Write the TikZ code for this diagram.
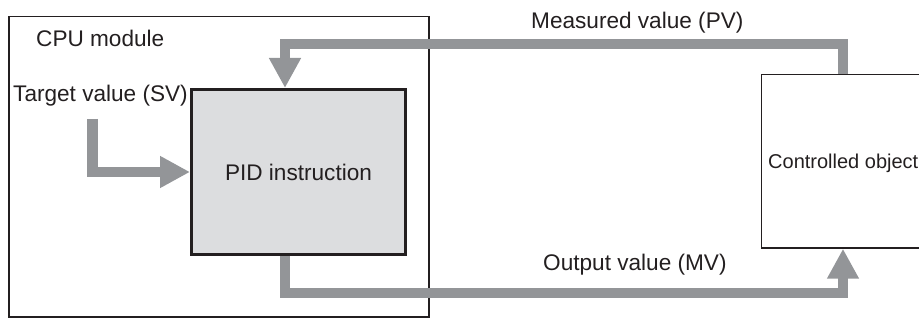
\documentclass[tikz,border=0pt]{standalone}
\usepackage{fontspec}
\setmainfont{Liberation Sans}
\usetikzlibrary{arrows.meta}
\definecolor{flowgray}{HTML}{939598}
\definecolor{pidfill}{HTML}{DCDDDF}
\definecolor{ink}{HTML}{231F20}
\begin{document}
\begin{tikzpicture}[x=1pt, y=-1pt, every node/.style={font=\fontsize{22.6}{27}\selectfont, text=ink, inner sep=0pt},
  cpubox/.style={draw=ink,line width=1.5pt,minimum width=420pt,minimum height=300.5pt,anchor=north west},
  pidbox/.style={draw=ink,line width=3.2pt,fill=pidfill,minimum width=213.8pt,minimum height=164.8pt},
  objbox/.style={draw=ink,line width=1.5pt,minimum width=200pt,minimum height=173.5pt,anchor=north west},
  flow/.style={draw=flowgray,line width=10.5pt,line join=miter,-{Triangle[width=30pt,length=30pt]}}]
  \useasboundingbox (0,0) rectangle (919,320);
  \node[cpubox] (cpu) at (8,15.75) {};
  \node[anchor=base west] (cpulbl) at (36,47) {CPU module};
  \node[anchor=base west] (svlbl) at (13,101.5) {Target value (SV)};
  \node[pidbox] (pid) at (298.5,172) {PID instruction};
  \node[objbox] (obj) at (760.75,73.75) {};
  \node[anchor=base west,font=\fontsize{20}{24}\selectfont] (objlbl) at (768,169) {Controlled object};
  \node[anchor=base west] (pvlbl) at (531,28.5) {Measured value (PV)};
  \node[anchor=base west] (mvlbl) at (543,271) {Output value (MV)};
  \coordinate (svin) at (92.5,119);
  \draw[flow] (svin) |- (pid.west);
  \draw[flow] ([xshift=82.25pt]obj.north west) -- ++(0,-29.5) -| ([xshift=95pt]pid.north west);
  \draw[flow] ([xshift=95pt]pid.south west) -- ++(0,37) -| ([xshift=82.25pt]obj.south west);
\end{tikzpicture}
\end{document}
